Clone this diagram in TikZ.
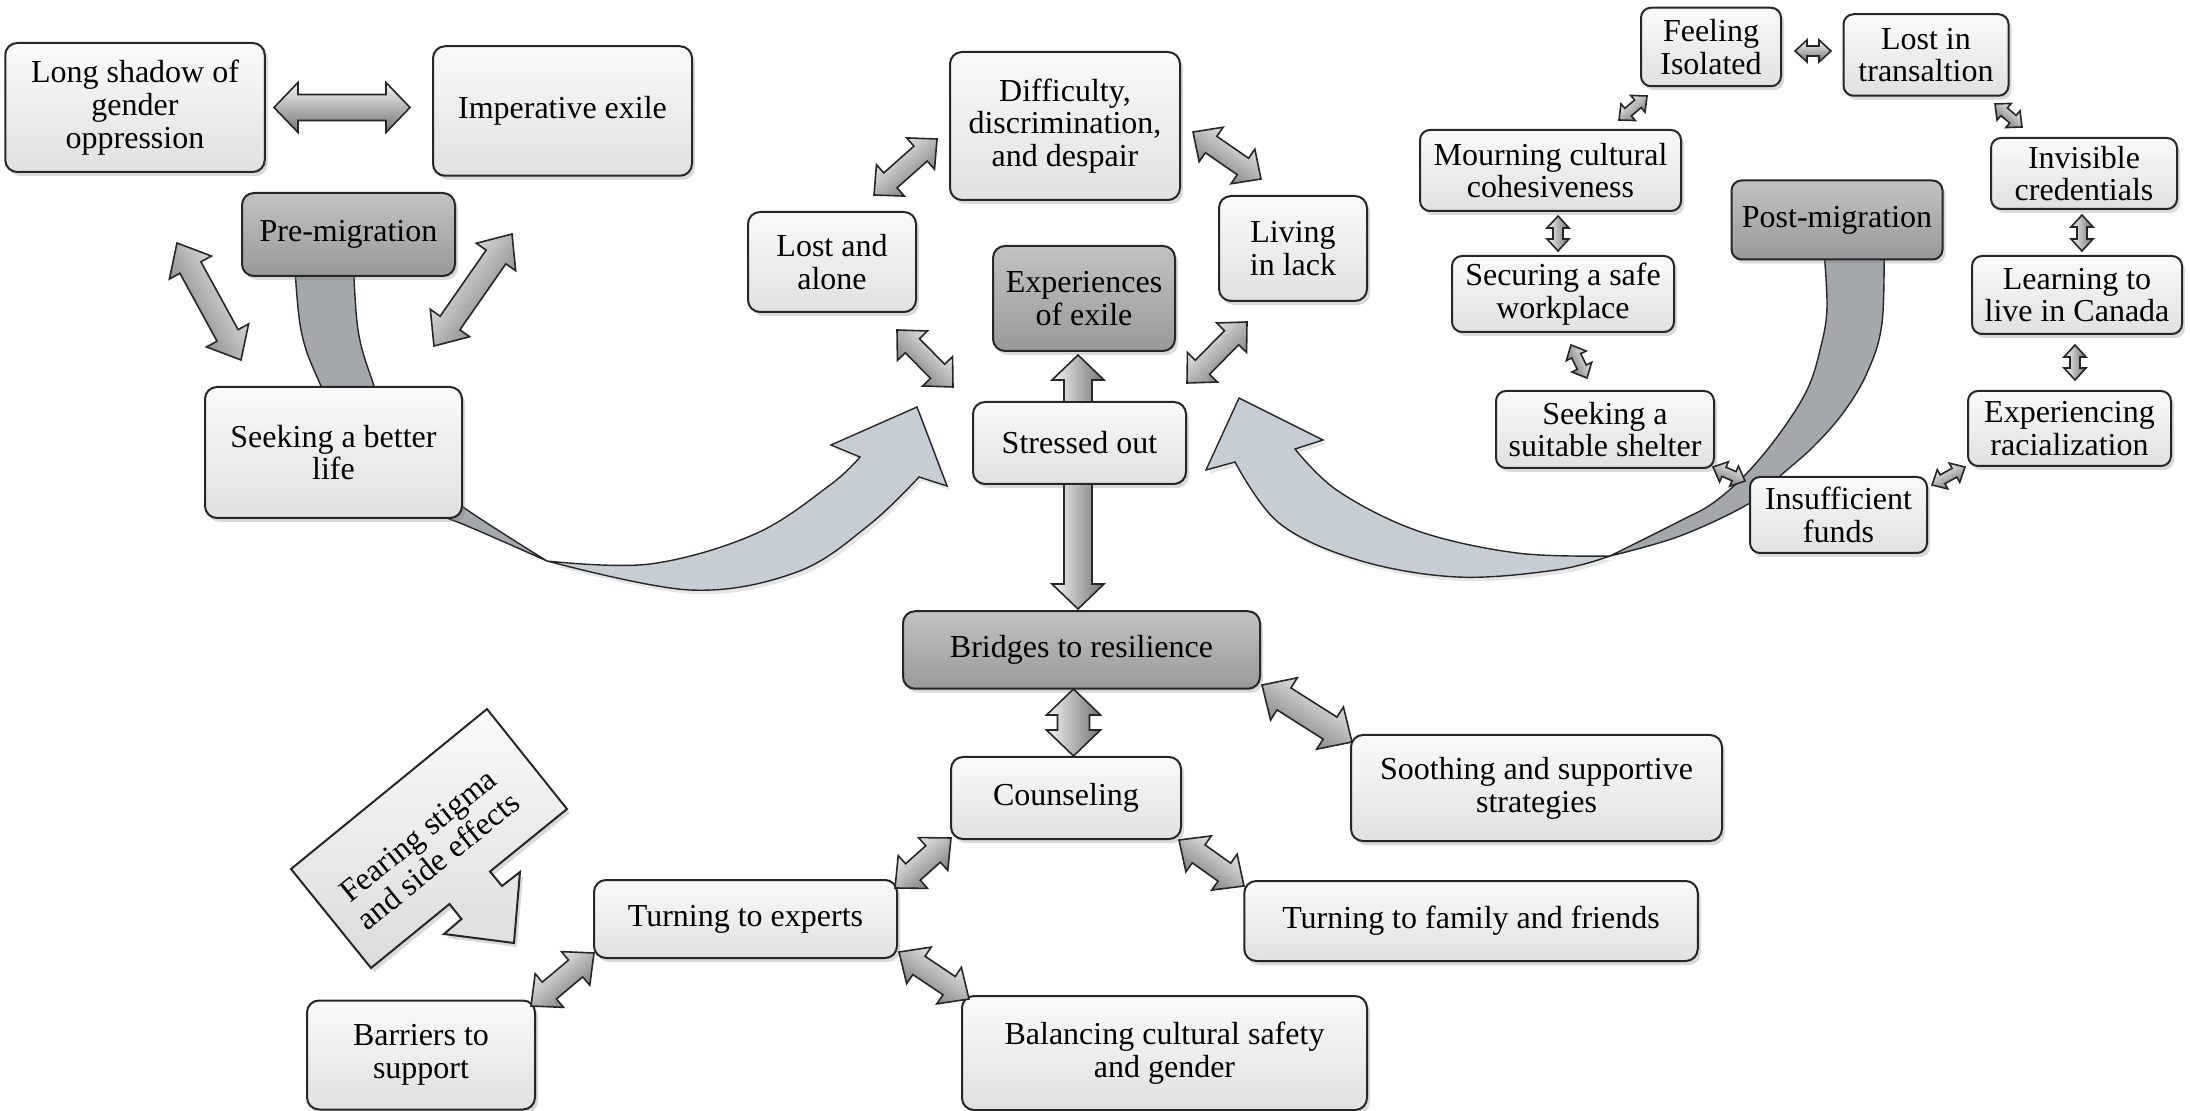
\documentclass[tikz,border=0pt]{standalone}
\usepackage{fontspec}
\setmainfont{Liberation Serif}
\usetikzlibrary{calc,shadows}
\definecolor{ribdarkc}{HTML}{A4A8AD}
\definecolor{riblightc}{HTML}{C6CDD5}
\newcommand\boxfont{\fontsize{16}{16.4}\selectfont}
% double block arrow: #1,#2 end coordinates, #3 shaft half width, #4 head half width, #5 head length, #6 shading angle
\newcommand\dblarr[6]{%
 \path[blockarr, shading angle=#6]
 (#1) -- ($(#1)!#5!(#2)!#4!90:(#2)$) -- ($(#1)!#5!(#2)!#3!90:(#2)$)
 -- ($(#2)!#5!(#1)!#3!-90:(#1)$) -- ($(#2)!#5!(#1)!#4!-90:(#1)$)
 -- (#2) -- ($(#2)!#5!(#1)!#4!90:(#1)$) -- ($(#2)!#5!(#1)!#3!90:(#1)$)
 -- ($(#1)!#5!(#2)!#3!-90:(#2)$) -- ($(#1)!#5!(#2)!#4!-90:(#2)$) -- cycle;}
% single block arrow: #1 tail, #2 tip
\newcommand\sglarr[6]{%
 \path[blockarr, shading angle=#6]
 (#2) -- ($(#2)!#5!(#1)!#4!90:(#1)$) -- ($(#2)!#5!(#1)!#3!90:(#1)$)
 -- ($(#1)!#3!-90:(#2)$) -- ($(#1)!#3!90:(#2)$)
 -- ($(#2)!#5!(#1)!#3!-90:(#1)$) -- ($(#2)!#5!(#1)!#4!-90:(#1)$) -- cycle;}
\begin{document}
\begin{tikzpicture}[x=0.5pt,y=-0.5pt,
  lbox/.style={draw=black!85, line width=1pt, rounded corners=6pt, top color=black!2, bottom color=black!12,
    align=center, inner sep=2pt, font=\boxfont, text=black,
    drop shadow={shadow xshift=1.5pt, shadow yshift=-2pt, opacity=0.3}},
  dbox/.style={lbox, top color=black!24, bottom color=black!40},
  ribdark/.style={fill=ribdarkc, draw=black!85, line width=0.7pt},
  riblight/.style={fill=riblightc, draw=black!85, line width=0.7pt,
    drop shadow={shadow xshift=1.5pt, shadow yshift=-2pt, opacity=0.2}},
  blockarr/.style={draw=black!85, line width=0.8pt, top color=black!4, bottom color=black!55},
  callout/.style={draw=black!85, line width=1pt, top color=black!2, bottom color=black!14,
    drop shadow={shadow xshift=1.5pt, shadow yshift=-2pt, opacity=0.3}}
]
\useasboundingbox (0,0) rectangle (2190,1111);

% ---------- ribbons (big curved arrows) ----------
\path[ribdark] plot[smooth, tension=0.6] coordinates {(294,250) (301,330) (321,386) (360,465) (410,505) (460,523) (547,561)}
  -- plot[smooth, tension=0.6] coordinates {(547,561) (463,507) (420,470) (390,430) (374,386) (358,330) (353,250)} -- cycle;
\path[riblight] plot[smooth, tension=0.6] coordinates {(547,561) (650,564) (755,534) (830,485) (860,457)}
  -- (831,445) -- (917,407) -- (947,486) -- (919,477)
  -- plot[smooth, tension=0.6] coordinates {(919,477) (869,525) (797,572) (690,590) (547,561)} -- cycle;

\path[ribdark] plot[smooth, tension=0.6] coordinates {(1823,240) (1827,307) (1820,350) (1807,390) (1780,433) (1747,473) (1713,503) (1680,521) (1610,556)}
  -- plot[smooth, tension=0.6] coordinates {(1610,556) (1680,536) (1750,503) (1780,476) (1813,447) (1843,413) (1867,373) (1882,323) (1884,240)} -- cycle;
\path[riblight] plot[smooth, tension=0.6] coordinates {(1610,556) (1517,553) (1418,531) (1338,491) (1295,449)}
  -- (1323,440) -- (1239,398) -- (1206,470) -- (1235,462)
  -- plot[smooth, tension=0.6] coordinates {(1235,462) (1279,523) (1358,560) (1457,577) (1556,570) (1610,556)} -- cycle;

% ---------- boxes ----------
\node[lbox, minimum width=129.75pt, minimum height=64.5pt] (longshadow) at (135,107.5) {Long shadow of\\gender\\oppression};
\node[lbox, minimum width=129.5pt, minimum height=64.75pt] (imperative) at (562.5,111) {Imperative exile};
\node[dbox, minimum width=106.5pt, minimum height=41.5pt] (premig) at (348.5,234.5) {Pre-migration};
\node[lbox, minimum width=128.5pt, minimum height=65.5pt] (seekbetter) at (333.5,452.5) {Seeking a better\\life};

\node[lbox, minimum width=115pt, minimum height=74pt] (difficulty) at (1065,126) {Difficulty,\\discrimination,\\and despair};
\node[lbox, minimum width=84pt, minimum height=50pt] (lostalone) at (832,262) {Lost and\\alone};
\node[dbox, minimum width=91pt, minimum height=52.5pt] (experiences) at (1084,298.5) {Experiences\\of exile};
\node[lbox, minimum width=74pt, minimum height=52.5pt] (living) at (1293,248.5) {Living\\in lack};
\node[lbox, minimum width=106.5pt, minimum height=41pt] (stressed) at (1079.5,443) {Stressed out};

\node[dbox, minimum width=178.5pt, minimum height=38.75pt] (bridges) at (1081.5,650) {Bridges to resilience};
\node[lbox, minimum width=115pt, minimum height=41pt] (counseling) at (1066,798) {Counseling};
\node[lbox, minimum width=185.5pt, minimum height=53pt] (soothing) at (1536.5,788) {Soothing and supportive\\strategies};
\node[lbox, minimum width=151.5pt, minimum height=39pt] (experts) at (745.5,919) {Turning to experts};
\node[lbox, minimum width=226.75pt, minimum height=40pt] (family) at (1471,921) {Turning to family and friends};
\node[lbox, minimum width=114pt, minimum height=54.5pt] (barriers) at (421,1055) {Barriers to\\support};
\node[lbox, minimum width=202.5pt, minimum height=57pt] (balancing) at (1164.5,1053) {Balancing cultural safety\\and gender};

\node[lbox, minimum width=70pt, minimum height=39.25pt, rounded corners=5pt] (feeling) at (1711,47) {Feeling\\Isolated};
\node[lbox, minimum width=82.5pt, minimum height=40.75pt, rounded corners=5pt] (losttrans) at (1926,55) {Lost in\\transaltion};
\node[lbox, minimum width=130.5pt, minimum height=40.5pt, rounded corners=5pt] (mourning) at (1550.5,170.5) {Mourning cultural\\cohesiveness};
\node[lbox, minimum width=93pt, minimum height=35.5pt, rounded corners=5pt] (invisible) at (2084,173.5) {Invisible\\credentials};
\node[dbox, minimum width=105.5pt, minimum height=39.5pt, rounded corners=5pt] (postmig) at (1837,220) {Post-migration};
\node[lbox, minimum width=111pt, minimum height=38pt, rounded corners=5pt] (securing) at (1563,294) {Securing a safe\\workplace};
\node[lbox, minimum width=105pt, minimum height=39pt, rounded corners=5pt] (learning) at (2077,295) {Learning to\\live in Canada};
\node[lbox, minimum width=109pt, minimum height=38.5pt, rounded corners=5pt] (shelter) at (1605,429.5) {Seeking a\\suitable shelter};
\node[lbox, minimum width=101.5pt, minimum height=37.5pt, rounded corners=5pt] (experiencing) at (2069.5,428.5) {Experiencing\\racialization};
\node[lbox, minimum width=88.5pt, minimum height=38pt, rounded corners=5pt] (insufficient) at (1838.5,515) {Insufficient\\funds};

% ---------- callout ----------
\path[callout] (487,709) -- (567,809) -- (490,871.5) -- (502,886) -- (520,872) -- (514,943)
  -- (444,934) -- (461.5,919) -- (449.5,904) -- (371,968) -- (291,869) -- cycle;
\node[rotate=39, align=center, font=\boxfont, inner sep=0pt] (fearing) at (428,848) {Fearing stigma\\and side effects};

% ---------- block arrows ----------
\coordinate (a1s) at (274,107.5);  \coordinate (a1e) at (410,107.5);
\coordinate (a2s) at (177,243);    \coordinate (a2e) at (241,360);
\coordinate (a3s) at (512,234);    \coordinate (a3e) at (434,346);
\coordinate (a4s) at (874,195);    \coordinate (a4e) at (937,139);
\coordinate (a5s) at (1193,132);   \coordinate (a5e) at (1261,179);
\coordinate (a6s) at (897,330);    \coordinate (a6e) at (953,387);
\coordinate (a7s) at (1247,322);   \coordinate (a7e) at (1187,383);
\coordinate (a8s) at (1078,402);   \coordinate (a8e) at (1078,355);
\coordinate (a9s) at (1078,484);   \coordinate (a9e) at (1078,609);
\coordinate (a10s) at (1073.5,689); \coordinate (a10e) at (1073.5,756);
\coordinate (a11s) at (1262,685);  \coordinate (a11e) at (1352,742);
\coordinate (a12s) at (951,838);   \coordinate (a12e) at (895,888);
\coordinate (a13s) at (1179,840);  \coordinate (a13e) at (1244,886);
\coordinate (a14s) at (594,953);   \coordinate (a14e) at (531,1006);
\coordinate (a15s) at (899,952);   \coordinate (a15e) at (969,999);

\dblarr{a1s}{a1e}{6.5pt}{12.5pt}{12pt}{0}
\dblarr{a2s}{a2e}{6pt}{12pt}{14pt}{-61.3}
\dblarr{a3s}{a3e}{6pt}{12pt}{14pt}{55.1}
\dblarr{a4s}{a4e}{5pt}{10.5pt}{11pt}{41.6}
\dblarr{a5s}{a5e}{5pt}{10.5pt}{11pt}{-34.6}
\dblarr{a6s}{a6e}{5pt}{10.5pt}{11pt}{-45.5}
\dblarr{a7s}{a7e}{5pt}{10.5pt}{11pt}{45.5}
\sglarr{a8s}{a8e}{7pt}{13pt}{12.5pt}{90}
\sglarr{a9s}{a9e}{7pt}{13pt}{12.5pt}{90}
\dblarr{a10s}{a10e}{8pt}{13.5pt}{13pt}{90}
\dblarr{a11s}{a11e}{6.5pt}{12.5pt}{13pt}{-32.3}
\dblarr{a12s}{a12e}{5.5pt}{11pt}{12pt}{41.8}
\dblarr{a13s}{a13e}{5.5pt}{11pt}{12pt}{-35.3}
\dblarr{a14s}{a14e}{5.5pt}{11pt}{12pt}{40.1}
\dblarr{a15s}{a15e}{5.5pt}{11pt}{12pt}{-33.9}

% small arrows (post-migration cycle)
\coordinate (b1s) at (1795,51);   \coordinate (b1e) at (1831,51);
\coordinate (b2s) at (1647,96);   \coordinate (b2e) at (1619,120);
\coordinate (b3s) at (1995,104);  \coordinate (b3e) at (2022,127);
\coordinate (b4s) at (1558,216);  \coordinate (b4e) at (1558,251);
\coordinate (b5s) at (2082,215);  \coordinate (b5e) at (2082,251);
\coordinate (b6s) at (1571,345);  \coordinate (b6e) at (1587,378);
\coordinate (b7s) at (2075,345);  \coordinate (b7e) at (2075,380);
\coordinate (b8s) at (1713,467);  \coordinate (b8e) at (1745,481);
\coordinate (b9s) at (1932,485);  \coordinate (b9e) at (1965,467);
\dblarr{b1s}{b1e}{2.5pt}{5.5pt}{6pt}{0}
\dblarr{b2s}{b2e}{2.5pt}{5.5pt}{6pt}{40.6}
\dblarr{b3s}{b3e}{2.5pt}{5.5pt}{6pt}{-40.4}
\dblarr{b4s}{b4e}{2.5pt}{5.5pt}{6pt}{90}
\dblarr{b5s}{b5e}{2.5pt}{5.5pt}{6pt}{90}
\dblarr{b6s}{b6e}{2.5pt}{5.5pt}{6pt}{-64.1}
\dblarr{b7s}{b7e}{2.5pt}{5.5pt}{6pt}{90}
\dblarr{b8s}{b8e}{2.5pt}{5.5pt}{6pt}{-23.6}
\dblarr{b9s}{b9e}{2.5pt}{5.5pt}{6pt}{28.6}
\end{tikzpicture}
\end{document}
